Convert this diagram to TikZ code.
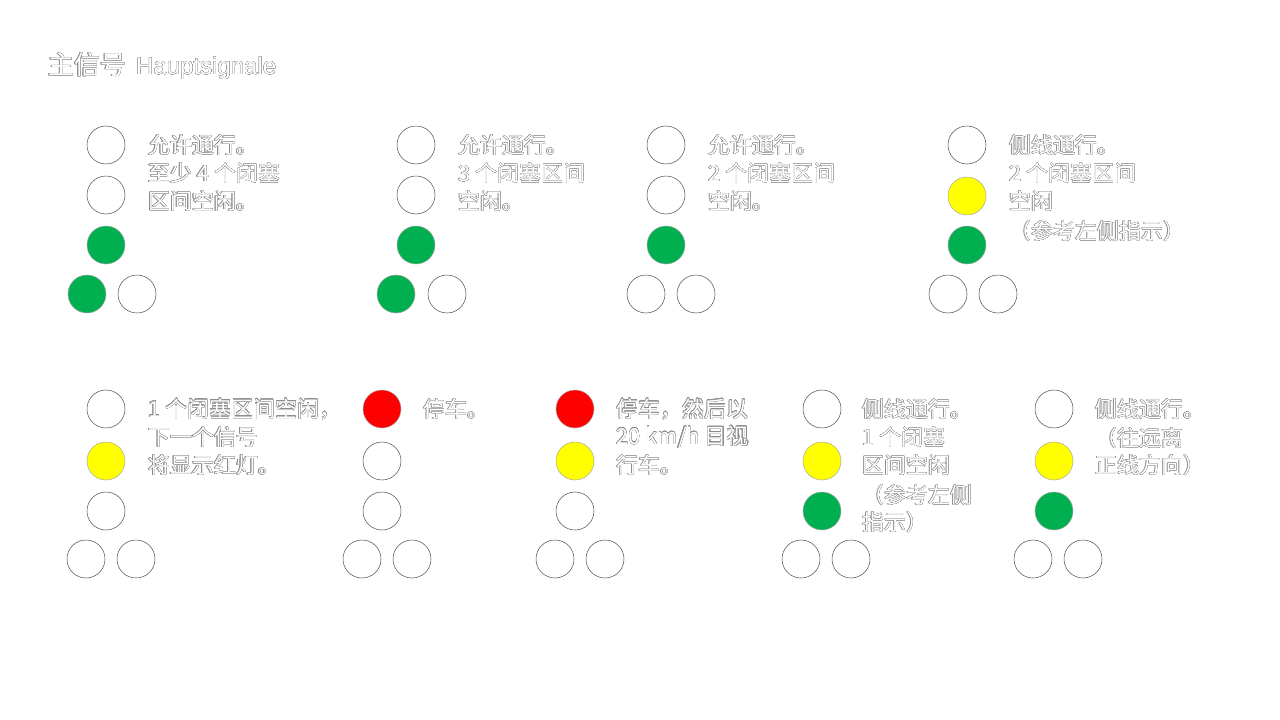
\documentclass[tikz,border=0pt]{standalone}
\usepackage{fontspec}
\usepackage{contour}
\newfontfamily\cjk{Noto Sans CJK SC}
\newfontfamily\latinsans{Liberation Sans}
\definecolor{sgreen}{HTML}{00B050}
\definecolor{syellow}{HTML}{FFFF00}
\definecolor{sred}{HTML}{FF0000}
\definecolor{txtline}{gray}{0.55}
\contourlength{0.22pt}
\newcommand{\outl}[1]{\textcolor{white}{\contour{txtline}{#1}}}
\tikzset{
  lamp/.style={circle, minimum size=38pt, inner sep=0pt, draw=black!70, line width=0.5pt, fill=white},
  lit/.style={lamp, draw=black!35, fill=#1},
  txt/.style={anchor=west, inner sep=0pt, font=\cjk\fontsize{22}{28}\selectfont},
  ttl/.style={anchor=west, inner sep=0pt, font=\cjk\fontsize{26}{30}\selectfont}
}
\begin{document}
\begin{tikzpicture}[x=1pt,y=-1pt]
\useasboundingbox[fill=white] (0,0) rectangle (1280,720);
\node[ttl] (title) at (48,66) {\outl{主信号}\hspace{10pt}{\latinsans\fontsize{24}{30}\selectfont\outl{Hauptsignale}}};

% Signal 1
\node[lamp] (s1a) at (106,145) {};
\node[lamp] (s1b) at (106,195) {};
\node[lit=sgreen] (s1c) at (106,245) {};
\node[lit=sgreen] (s1d) at (87,294) {};
\node[lamp] (s1e) at (137,294) {};
\node[txt] (s1t1) at (148,145) {\outl{允许通行。}};
\node[txt] (s1t2) at (148,173) {\outl{至少 4 个闭塞}};
\node[txt] (s1t3) at (148,201) {\outl{区间空闲。}};

% Signal 2
\node[lamp] (s2a) at (416,145) {};
\node[lamp] (s2b) at (416,195) {};
\node[lit=sgreen] (s2c) at (416,245) {};
\node[lit=sgreen] (s2d) at (396,294) {};
\node[lamp] (s2e) at (447,294) {};
\node[txt] (s2t1) at (458,145) {\outl{允许通行。}};
\node[txt] (s2t2) at (458,173) {\outl{3 个闭塞区间}};
\node[txt] (s2t3) at (458,201) {\outl{空闲。}};

% Signal 3
\node[lamp] (s3a) at (666,145) {};
\node[lamp] (s3b) at (666,195) {};
\node[lit=sgreen] (s3c) at (666,245) {};
\node[lamp] (s3d) at (646,294) {};
\node[lamp] (s3e) at (696,294) {};
\node[txt] (s3t1) at (708,145) {\outl{允许通行。}};
\node[txt] (s3t2) at (708,173) {\outl{2 个闭塞区间}};
\node[txt] (s3t3) at (708,201) {\outl{空闲。}};

% Signal 4
\node[lamp] (s4a) at (967,145) {};
\node[lit=syellow] (s4b) at (967,196) {};
\node[lit=sgreen] (s4c) at (967,245) {};
\node[lamp] (s4d) at (948,294) {};
\node[lamp] (s4e) at (998,294) {};
\node[txt] (s4t1) at (1009,145) {\outl{侧线通行。}};
\node[txt] (s4t2) at (1009,173) {\outl{2 个闭塞区间}};
\node[txt] (s4t3) at (1009,201) {\outl{空闲}};
\node[txt] (s4t4) at (1009,231) {\outl{（参考左侧指示）}};

% Signal 5
\node[lamp] (s5a) at (106,409) {};
\node[lit=syellow] (s5b) at (106,461) {};
\node[lamp] (s5c) at (106,511) {};
\node[lamp] (s5d) at (86,559) {};
\node[lamp] (s5e) at (136,559) {};
\node[txt] (s5t1) at (148,409) {\outl{1 个闭塞区间空闲，}};
\node[txt] (s5t2) at (148,437) {\outl{下一个信号}};
\node[txt] (s5t3) at (148,465) {\outl{将显示红灯。}};

% Signal 6
\node[lit=sred] (s6a) at (382,409) {};
\node[lamp] (s6b) at (382,461) {};
\node[lamp] (s6c) at (382,511) {};
\node[lamp] (s6d) at (362,559) {};
\node[lamp] (s6e) at (412,559) {};
\node[txt] (s6t1) at (423,409) {\outl{停车。}};

% Signal 7
\node[lit=sred] (s7a) at (575,409) {};
\node[lit=syellow] (s7b) at (575,461) {};
\node[lamp] (s7c) at (575,511) {};
\node[lamp] (s7d) at (555,559) {};
\node[lamp] (s7e) at (605,559) {};
\node[txt] (s7t1) at (616,409) {\outl{停车，然后以}};
\node[txt] (s7t2) at (616,437) {\outl{20 km/h 目视}};
\node[txt] (s7t3) at (616,465) {\outl{行车。}};

% Signal 8
\node[lamp] (s8a) at (822,409) {};
\node[lit=syellow] (s8b) at (822,461) {};
\node[lit=sgreen] (s8c) at (822,511) {};
\node[lamp] (s8d) at (801,559) {};
\node[lamp] (s8e) at (851,559) {};
\node[txt] (s8t1) at (862,409) {\outl{侧线通行。}};
\node[txt] (s8t2) at (862,437) {\outl{1 个闭塞}};
\node[txt] (s8t3) at (862,465) {\outl{区间空闲}};
\node[txt] (s8t4) at (862,495) {\outl{（参考左侧}};
\node[txt] (s8t5) at (862,522) {\outl{指示）}};

% Signal 9
\node[lamp] (s9a) at (1054,409) {};
\node[lit=syellow] (s9b) at (1054,461) {};
\node[lit=sgreen] (s9c) at (1054,511) {};
\node[lamp] (s9d) at (1033,559) {};
\node[lamp] (s9e) at (1083,559) {};
\node[txt] (s9t1) at (1095,409) {\outl{侧线通行。}};
\node[txt] (s9t2) at (1095,438) {\outl{（往远离}};
\node[txt] (s9t3) at (1095,465) {\outl{正线方向）}};
\end{tikzpicture}
\end{document}
